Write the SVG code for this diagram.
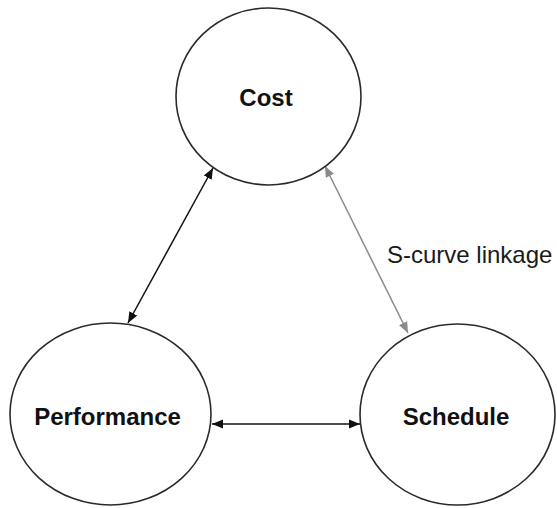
<svg xmlns="http://www.w3.org/2000/svg" width="557" height="508" viewBox="0 0 557 508">
  <style>
    .node { fill: #ffffff; stroke: #2a2a2a; stroke-width: 1.6; }
    .label { font-family: "Liberation Sans", Arial, sans-serif; font-size: 24px; font-weight: bold; fill: #111111; text-anchor: middle; }
    .edge { stroke: #111111; stroke-width: 1.5; fill: none; }
    .edge-gray { stroke: #8a8a8a; stroke-width: 1.5; fill: none; }
    .edge-label { font-family: "Liberation Sans", Arial, sans-serif; font-size: 24px; fill: #1a1a1a; }
  </style>
  <defs>
    <marker id="arrow" markerUnits="userSpaceOnUse" markerWidth="12" markerHeight="10" refX="11" refY="5" orient="auto-start-reverse" viewBox="0 0 12 10">
      <path d="M0,0.5 L11,5 L0,9.5 Z" fill="#111111"/>
    </marker>
    <marker id="arrow-gray" markerUnits="userSpaceOnUse" markerWidth="12" markerHeight="10" refX="11" refY="5" orient="auto-start-reverse" viewBox="0 0 12 10">
      <path d="M0,0.5 L11,5 L0,9.5 Z" fill="#8a8a8a"/>
    </marker>
  </defs>
  <rect width="557" height="508" fill="#ffffff"/>
  <g id="connectors">
    <line class="edge" x1="213" y1="168" x2="128" y2="323" marker-start="url(#arrow)" marker-end="url(#arrow)"/>
    <line class="edge-gray" x1="325" y1="166" x2="408" y2="333" marker-start="url(#arrow-gray)" marker-end="url(#arrow-gray)"/>
    <line class="edge" x1="212" y1="424" x2="360" y2="424" marker-start="url(#arrow)" marker-end="url(#arrow)"/>
    <text class="edge-label" x="387" y="263">S-curve linkage</text>
  </g>
  <g id="node-cost">
    <ellipse class="node" cx="268.5" cy="96.5" rx="92.5" ry="88.5"/>
    <text class="label" x="266" y="106">Cost</text>
  </g>
  <g id="node-performance">
    <ellipse class="node" cx="110.5" cy="414" rx="100.5" ry="91"/>
    <text class="label" x="107.5" y="425">Performance</text>
  </g>
  <g id="node-schedule">
    <ellipse class="node" cx="457.5" cy="414.5" rx="97.5" ry="90.5"/>
    <text class="label" x="456" y="425">Schedule</text>
  </g>
</svg>
